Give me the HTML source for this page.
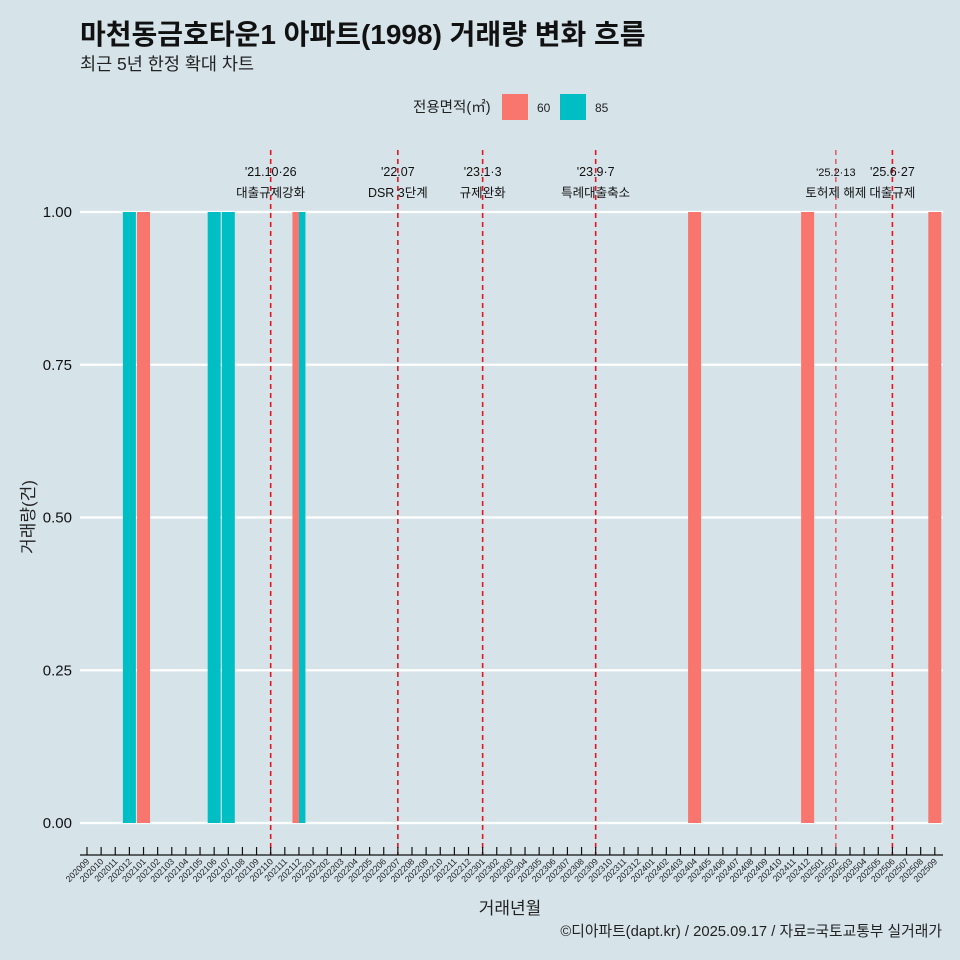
<!DOCTYPE html>
<html><head><meta charset="utf-8"><style>
body{margin:0;background:#d6e4ea;}
svg{display:block;font-family:"Liberation Sans","Noto Sans CJK KR",sans-serif;}
</style></head><body>
<svg id="c" width="960" height="960" viewBox="0 0 960 960">
<rect width="960" height="960" fill="#d6e4ea"/>
<text x="80" y="44" font-size="28" font-weight="bold" fill="#111">마천동금호타운1 아파트(1998) 거래량 변화 흐름</text>
<text x="80" y="70" font-size="17.5" fill="#222">최근 5년 한정 확대 차트</text>
<g>
<text x="413" y="112" font-size="14.5" fill="#222">전용면적(㎡)</text>
<rect x="502" y="94" width="26" height="26" fill="#f8766d"/>
<text x="537" y="112" font-size="12" fill="#222">60</text>
<rect x="560" y="94" width="26" height="26" fill="#00bfc4"/>
<text x="595" y="112" font-size="12" fill="#222">85</text>
</g>
<g id="grid"></g><g id="bars"></g><g id="events"></g><g id="xaxis"></g>
<text transform="translate(34,517) rotate(-90)" text-anchor="middle" font-size="17" fill="#222">거래량(건)</text>
<text x="510" y="914" text-anchor="middle" font-size="17" fill="#222">거래년월</text>
<text x="942" y="936" text-anchor="end" font-size="14.8" fill="#222">©디아파트(dapt.kr) / 2025.09.17 / 자료=국토교통부 실거래가</text>
</svg>
<script>
const months=[];for(let y=2020,m=9;!(y===2025&&m===10);){months.push(''+y+(m<10?'0':'')+m);m++;if(m>12){m=1;y++;}}
const yTicks=[0,0.25,0.5,0.75,1];
const yTickLabels=["0.00","0.25","0.50","0.75","1.00"];
const saleMonths=["202012","202101","202106","202107","202112","202112","202404","202412","202509"];
const saleSizes=["85","60","85","85","60","85","60","60","60"];
const saleCounts=[1,1,1,1,1,1,1,1,1];
const eventMonths=["202110","202207","202301","202309","202502","202506"];
const eventLine1=["'21.10·26","'22.07","'23.1·3","'23.9·7","'25.2·13","'25.6·27"];
const eventLine2=["대출규제강화","DSR 3단계","규제완화","특례대출축소","토허제 해제","대출규제"];
const NS='http://www.w3.org/2000/svg';
function mk(t,a,p){const e=document.createElementNS(NS,t);for(const k in a)e.setAttribute(k,a[k]);p.appendChild(e);return e;}
const x0=87,step=14.13;
const xs=m=>x0+months.indexOf(m)*step;
const ys=v=>823-v*611;
const grid=document.getElementById('grid');
yTicks.forEach((v,i)=>{
 const l=mk('line',{x1:80,x2:943,y1:ys(v),y2:ys(v),stroke:'#fff','stroke-width':2.2},grid);
 
 
 const t=mk('text',{x:72,y:ys(v)+5,'text-anchor':'end','font-size':15,fill:'#111'},grid);
 t.textContent=yTickLabels[i];
 
 
});
const bars=document.getElementById('bars');const bw=13;
saleMonths.forEach((m,i)=>{
 const same=saleMonths.map((mm,j)=>mm===m?j:-1).filter(j=>j>=0);
 const w=bw/same.length,k=same.indexOf(i);
 const r=mk('rect',{x:xs(m)-bw/2+k*w,y:ys(saleCounts[i]),width:w,height:ys(0)-ys(saleCounts[i]),fill:saleSizes[i]==='60'?'#f8766d':'#00bfc4'},bars);
 
 
});
const ev=document.getElementById('events');
eventMonths.forEach((m,i)=>{
 const x=xs(m);const thin=m==='202502';
 const l=mk('line',{x1:x,x2:x,y1:150,y2:855,stroke:'#e8141c','stroke-width':thin?1:1.6,'stroke-dasharray':'5,4'},ev);
 
 
 const t1=mk('text',{x:x,y:176,'text-anchor':'middle','font-size':thin?11:12.5,fill:'#111'},ev);
 t1.textContent=eventLine1[i];
 
 
 const t2=mk('text',{x:x,y:197,'text-anchor':'middle','font-size':12.5,fill:'#111'},ev);
 t2.textContent=eventLine2[i];
 
 
});
const xa=document.getElementById('xaxis');
const al=mk('line',{x1:80,x2:943,y1:855,y2:855,stroke:'#111','stroke-width':1.2},xa);


months.forEach(m=>{
 const x=xs(m);
 const tk=mk('line',{x1:x,x2:x,y1:847,y2:855,stroke:'#111','stroke-width':1.2},xa);
 
 
 const t=mk('text',{x:x+3,y:862,'text-anchor':'end','font-size':8.8,fill:'#222',transform:`rotate(-45 ${x+3} 862)`},xa);
 t.textContent=m;
 
 
});
</script>
</body></html>
